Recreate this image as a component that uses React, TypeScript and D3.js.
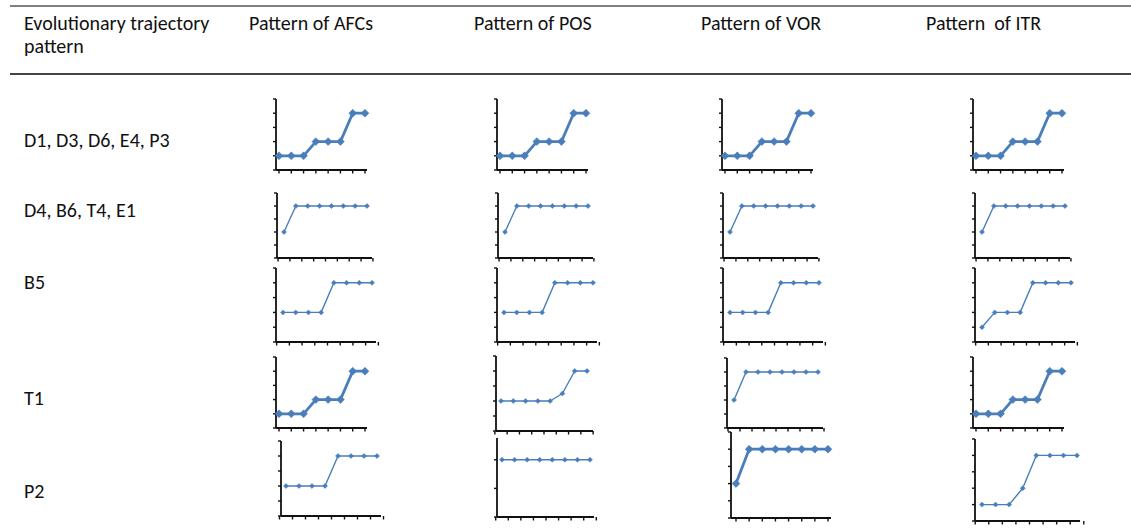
import React from "react";
import * as d3 from "d3";

// header + row labels
const columnTitles = ["Pattern of AFCs", "Pattern of POS", "Pattern of VOR", "Pattern  of ITR"];
const rowLabels = ["D1, D3, D6, E4, P3", "D4, B6, T4, E1", "B5", "T1", "P2"];

// trajectories (8 time points each)
const stepUp = [1, 1, 1, 2, 2, 2, 4, 4];
const jumpEarly = [2, 4, 4, 4, 4, 4, 4, 4];
const jumpMid = [2, 2, 2, 2, 4, 4, 4, 4];
const posT1 = [2, 2, 2, 2, 2, 2.5, 4, 4];
const posP2 = [2, 2, 2, 2, 2, 2, 2, 2];
const itrB5 = [1, 2, 2, 2, 4, 4, 4, 4];
const itrP2 = [1, 1, 1, 2, 4, 4, 4, 4];

const seriesGrid = [
  [stepUp, stepUp, stepUp, stepUp],
  [jumpEarly, jumpEarly, jumpEarly, jumpEarly],
  [jumpMid, jumpMid, jumpMid, itrB5],
  [stepUp, posT1, jumpEarly, stepUp],
  [jumpMid, posP2, jumpEarly, itrP2],
];

const yTicks5 = [0, 1, 2, 3, 4, 5];
const yTicks2 = [0, 1, 2];

// panel layout: left axis x, top, bottom, first/last point offset, axis length
type Cell = { l: number; top: number; bot: number; p0: number; p1: number; end: number; thick: boolean; yMax: number; ticks: number[] };
const thickCell = (l: number, top: number, bot: number): Cell => ({ l, top, bot, p0: 3, p1: 89, end: 91, thick: true, yMax: 5, ticks: yTicks5 });
const thinCell = (l: number, top: number, bot: number, p0: number, p1: number, end: number): Cell => ({ l, top, bot, p0, p1, end, thick: false, yMax: 5, ticks: yTicks5 });

const layout: Cell[][] = [
  [thickCell(276, 99, 170), thickCell(497, 99, 170), thickCell(722, 99, 170), thickCell(973, 99, 170)],
  [thinCell(277, 193, 258, 7, 90, 95), thinCell(498, 193, 258, 7, 90, 95), thinCell(723, 193, 258, 7, 90, 95), thinCell(975, 193, 258, 7, 90, 95)],
  [thinCell(276, 268, 342, 7, 96, 100), thinCell(497, 268, 342, 7, 96, 100), thinCell(723, 268, 342, 7, 96, 100), thinCell(975, 268, 342, 7, 96, 100)],
  [thickCell(276, 357, 428), thinCell(496, 356, 431, 5, 91, 97), thinCell(727, 358, 428, 7, 91, 96), thickCell(973, 357, 428)],
  [
    thinCell(281, 441, 516, 5, 96, 100),
    { ...thinCell(497, 438, 517, 5, 93, 97), yMax: 2.76, ticks: yTicks2 },
    { ...thickCell(731, 432, 518), p0: 5, p1: 97, end: 100 },
    thinCell(975, 439, 521, 7, 102, 105),
  ],
];

const colX = [249, 474, 701, 926];
const rowY = [147, 217, 289, 405, 498];
const blue = "#4a7ebb";
const font = "Carlito, 'Open Sans', sans-serif";

function Spark({ data, c }: { data: number[]; c: Cell }) {
  const x = d3.scaleLinear().domain([0, data.length - 1]).range([c.l + c.p0, c.l + c.p1]);
  const y = d3.scaleLinear().domain([0, c.yMax]).range([c.bot, c.top]);
  const line = d3.line<number>().x((_, i) => x(i)).y((d) => y(d));
  const xTicks = c.thick ? data.map((_, i) => x(i)) : d3.range(data.length + 1).map((i) => x(i - 0.5));
  const marker = d3.symbol(d3.symbolDiamond2, c.thick ? 40 : 16)();
  return (
    <g>
      <line x1={c.l} x2={c.l} y1={c.top} y2={c.bot} stroke="#111" strokeWidth={1.8} />
      <line x1={c.l} x2={c.l + c.end} y1={c.bot} y2={c.bot} stroke="#111" strokeWidth={1.8} />
      {c.ticks.map((t) => (
        <line key={"y" + t} x1={c.l - 3} x2={c.l} y1={y(t)} y2={y(t)} stroke="#111" strokeWidth={1.4} />
      ))}
      {xTicks.map((tx, i) => (
        <line key={"x" + i} x1={tx} x2={tx} y1={c.bot} y2={c.bot + 3.5} stroke="#111" strokeWidth={1.4} />
      ))}
      <path d={line(data) || ""} fill="none" stroke={blue} strokeWidth={c.thick ? 2.8 : 1.4} strokeLinejoin="round" />
      {data.map((d, i) => (
        <path key={i} d={marker || ""} transform={`translate(${x(i)},${y(d)})`} fill={blue} stroke={blue} strokeWidth={0.5} />
      ))}
    </g>
  );
}

export default function App() {
  return (
    <svg width={1131} height={531} style={{ position: "absolute", left: 0, top: 0, background: "#fff" }} fontFamily={font}>
      <rect width={1131} height={531} fill="#fff" />
      <line x1={10} x2={1131} y1={6} y2={6} stroke="#555" strokeWidth={1.5} />
      <line x1={10} x2={1131} y1={74} y2={74} stroke="#444" strokeWidth={2} />
      <text x={24} y={30} fontSize={20} fill="#111">Evolutionary trajectory</text>
      <text x={24} y={53} fontSize={20} fill="#111">pattern</text>
      {columnTitles.map((t, i) => (
        <text key={t} x={colX[i]} y={30} fontSize={20} fill="#111" style={{ whiteSpace: "pre" }}>{t}</text>
      ))}
      {rowLabels.map((t, i) => (
        <text key={t} x={24} y={rowY[i]} fontSize={20} fill="#111">{t}</text>
      ))}
      {seriesGrid.map((row, r) =>
        row.map((data, k) => <Spark key={r + "-" + k} data={data} c={layout[r][k]} />)
      )}
    </svg>
  );
}
